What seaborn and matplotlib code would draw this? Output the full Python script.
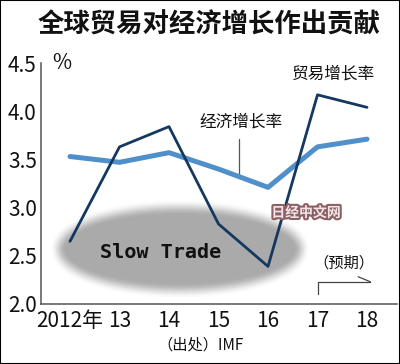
import numpy as np
import pandas as pd
import matplotlib
matplotlib.use("Agg")
import matplotlib.pyplot as plt
import matplotlib.patheffects as pe
from matplotlib.patches import Rectangle
import seaborn as sns

# ---- data ----
years = [2012, 2013, 2014, 2015, 2016, 2017, 2018]
year_labels = ["2012年", "13", "14", "15", "16", "17", "18"]
trade_growth = [2.65, 3.63, 3.84, 2.83, 2.39, 4.17, 4.04]
gdp_growth = [3.53, 3.47, 3.57, 3.40, 3.21, 3.63, 3.71]
y_ticks = [2.0, 2.5, 3.0, 3.5, 4.0, 4.5]
title = "全球贸易对经济增长作出贡献"
trade_label = "贸易增长率"
gdp_label = "经济增长率"
source = "（出处）IMF"
forecast = "（预期）"
slow_text = "Slow Trade"
watermark = "日经中文网"

sns.set_style("white")
CJK = ["Noto Sans CJK SC", "DejaVu Sans"]
NARROW = ["Liberation Sans Narrow", "Noto Sans CJK SC", "DejaVu Sans"]
plt.rcParams["font.family"] = CJK

df_trade = pd.DataFrame({"year": years, "value": trade_growth})
df_gdp = pd.DataFrame({"year": years, "value": gdp_growth})

fig = plt.figure(figsize=(4.0, 3.64), dpi=100)
ax = fig.add_axes([41 / 400, 1 - 304 / 364, (397 - 41) / 400, (304 - 63) / 364])

# soft grey ellipse "Slow Trade" (computed in pixel space for an even fringe)
px_per_x, px_per_y = 49.5, 96.6
cx, cy = 2014.22, 2.57
a_px, b_px = 122.0, 42.0
fringe = 16.0
W, H = (a_px + fringe) * 2, (b_px + fringe) * 2
xs = np.linspace(-W / 2, W / 2, 400)
ys = np.linspace(-H / 2, H / 2, 160)
X, Y = np.meshgrid(xs, ys)
r = np.sqrt((X / a_px) ** 2 + (Y / b_px) ** 2)
g = np.sqrt((X / a_px ** 2) ** 2 + (Y / b_px ** 2) ** 2) / np.maximum(r, 1e-6)
d = (r - 1) / np.maximum(g, 1e-6)  # approx. signed distance in pixels
t = np.clip(0.5 - d / fringe, 0, 1)
t = t * t * (3 - 2 * t)
img = np.zeros((len(ys), len(xs), 4))
img[..., 0:3] = 0.67
img[..., 3] = t
ext = [cx - W / 2 / px_per_x, cx + W / 2 / px_per_x,
       cy - H / 2 / px_per_y, cy + H / 2 / px_per_y]
ax.imshow(img, extent=ext, origin="lower", aspect="auto", zorder=0,
          interpolation="bilinear")

sns.lineplot(data=df_gdp, x="year", y="value", ax=ax, color="#4f8fca",
             linewidth=3.6, zorder=3)
sns.lineplot(data=df_trade, x="year", y="value", ax=ax, color="#14385f",
             linewidth=2.0, zorder=4)

ax.set_xlim(2011.414, 2018.606)
ax.set_ylim(2.0, 4.5)
ax.set_xticks(years)
ax.set_xticklabels(year_labels)
ax.set_yticks(y_ticks)
ax.set_yticklabels([f"{v:.1f}" for v in y_ticks])
ax.set_xlabel("")
ax.set_ylabel("")
for s in ["top", "right"]:
    ax.spines[s].set_visible(False)
for s in ["left", "bottom"]:
    ax.spines[s].set_color("#555555")
    ax.spines[s].set_linewidth(1.1)
ax.tick_params(axis="both", direction="in", length=5, width=1.0, color="#555555",
               labelsize=15, labelcolor="#111111")
ax.tick_params(axis="x", pad=4)
ax.tick_params(axis="y", pad=3)
for lab in ax.get_xticklabels() + ax.get_yticklabels():
    lab.set_family(NARROW)
ax.patch.set_alpha(0)

# texts
fig.text(209 / 400, 1 - 25 / 364, title, ha="center", va="center",
         fontsize=19, fontweight="bold", color="#111111", family=CJK)
fig.text(62 / 400, 1 - 63 / 364, "%", ha="center", va="center",
         fontsize=15, color="#111111", family=NARROW)
fig.text(333 / 400, 1 - 74 / 364, trade_label, ha="center", va="center",
         fontsize=12, color="#111111", family=CJK)
fig.text(241 / 400, 1 - 122 / 364, gdp_label, ha="center", va="center",
         fontsize=12, color="#111111", family=CJK)
ax.plot([2015.41, 2015.41], [3.71, 3.33], color="#555555", lw=0.9, zorder=2)

ax.text(2013.84, 2.53, slow_text, ha="center", va="center", fontsize=14.5,
        fontweight="bold", family="DejaVu Sans Mono", color="#111111", zorder=5)

fig.text(306 / 400, 1 - 213 / 364, watermark, ha="center", va="center",
         fontsize=10, fontweight="heavy", color="#f3e6e6", family=CJK,
         path_effects=[pe.withStroke(linewidth=3.0, foreground="#8d6066")],
         zorder=6)

# forecast bracket
ax.text(2017.53, 2.42, forecast, ha="center", va="center", fontsize=11,
        color="#111111", family=CJK)
ax.plot([2017, 2017, 2018.07], [2.10, 2.23, 2.23], color="#444444", lw=0.9,
        clip_on=False)
ax.plot([2017.82, 2018.07], [2.283, 2.23], color="#444444", lw=0.9, clip_on=False)

fig.text(200 / 400, 1 - 345 / 364, source, ha="center", va="center",
         fontsize=11, color="#111111", family=CJK)

fig.patches.append(Rectangle((0, 0), 1, 1, transform=fig.transFigure, fill=False,
                             edgecolor="black", linewidth=1.5, zorder=10))

fig.savefig("out.png", dpi=100)
